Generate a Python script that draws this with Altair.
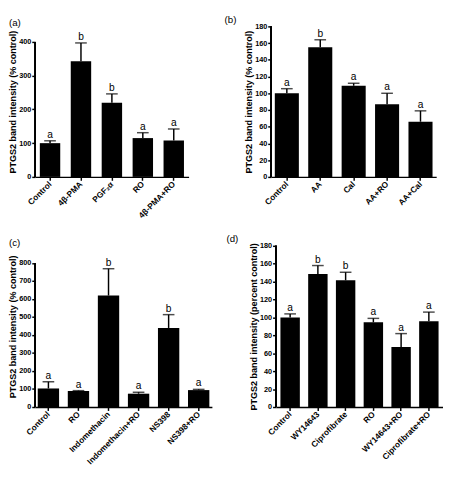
import altair as alt
import pandas as pd

FONT = "Liberation Sans"

# ---- Panel (a)
a_cats = ["Control", "4β-PMA", "PGF₂α", "RO", "4β-PMA+RO"]
a_vals = [100, 343, 220, 115, 108]
a_errs = [7, 54, 26, 16, 34]
a_sig = ["a", "b", "b", "a", "a"]
a_ticks = [0, 100, 200, 300, 400]

# ---- Panel (b)
b_cats = ["Control", "AA", "Cal", "AA+RO", "AA+Cal"]
b_vals = [100, 155, 109, 87, 66]
b_errs = [5.5, 9, 3, 13, 13]
b_sig = ["a", "b", "a", "a", "a"]
b_ticks = [0, 20, 40, 60, 80, 100, 120, 140, 160, 180]

# ---- Panel (c)
c_cats = ["Control", "RO", "Indomethacin", "Indomethacin+RO", "NS398", "NS398+RO"]
c_vals = [103, 89, 619, 74, 439, 94]
c_errs = [37, 2, 149, 8, 74, 4]
c_sig = ["a", "a", "b", "a", "b", "a"]
c_ticks = [0, 100, 200, 300, 400, 500, 600, 700, 800]

# ---- Panel (d)
d_cats = ["Control", "WY14643", "Ciprofibrate", "RO", "WY14643+RO", "Ciprofibrate+RO"]
d_vals = [100, 148.5, 141.5, 94.6, 67, 95.7]
d_errs = [4, 9.5, 9, 4.4, 15, 10.3]
d_sig = ["a", "b", "b", "a", "a", "a"]
d_ticks = [0, 20, 40, 60, 80, 100, 120, 140, 160, 180]


def panel(cats, vals, errs, sig, ticks, dom_max, ytitle, label, w, h,
          pin, pout, t_dx):
    df = pd.DataFrame({"cat": cats, "val": vals, "err": errs, "sig": sig})
    df["top"] = df["val"] + df["err"]
    xs = alt.Scale(paddingInner=pin, paddingOuter=pout)
    ys = alt.Scale(domain=[0, dom_max], nice=False, zero=True)
    xax = alt.Axis(labelAngle=-45, labelAlign="right", labelBaseline="middle")
    yax = alt.Axis(values=ticks, domain=False, labelOverlap=False,
                   labelFlush=False)

    def X():
        return alt.X("cat:N", sort=cats, title=None, scale=xs, axis=xax)

    def Y(field=None, datum=None):
        if datum is not None:
            return alt.Y(datum=datum, type="quantitative", scale=ys,
                         title=ytitle, axis=yax)
        return alt.Y(field, type="quantitative", scale=ys, title=ytitle,
                     axis=yax)

    base = alt.Chart(df)
    bars = base.mark_bar(color="black").encode(x=X(), y=Y("val"))
    rule = base.mark_rule(color="black", strokeWidth=1.5).encode(
        x=X(), y=Y("val"), y2="top:Q")
    cap = base.mark_tick(color="black", thickness=1.5, size=12,
                         orient="horizontal").encode(x=X(), y=Y("top"))
    txt = base.mark_text(baseline="bottom", dy=-1, fontSize=10.5, font=FONT,
                         fill="#000000").encode(
        x=X(), y=Y("top"), text="sig:N")
    # y axis line from the lowest to the highest tick value
    yline = base.mark_rule(color="black", strokeWidth=1.5).encode(
        x=alt.value(0), y=Y(datum=ticks[0]), y2=alt.Y2(datum=ticks[-1]))
    tp = dict(anchor="start", frame="bounds", offset=-2)
    if t_dx:
        tp["dx"] = t_dx
    return alt.layer(bars, rule, cap, txt, yline).properties(
        width=w, height=h, title=alt.TitleParams(label, **tp))


pa = panel(a_cats, a_vals, a_errs, a_sig, a_ticks, 446,
           "PTGS2 band intensity (% control)", "(a)", 158, 155, 0.34, 0.15, 0)
pb = panel(b_cats, b_vals, b_errs, b_sig, b_ticks, 180,
           "PTGS2 band intensity (% control)", "(b)", 170, 155, 0.28, 0.11, -21)
pc = panel(c_cats, c_vals, c_errs, c_sig, c_ticks, 895,
           "PTGS2 band intensity (% control)", "(c)", 182, 166, 0.29, 0.085, 0)
pd_ = panel(d_cats, d_vals, d_errs, d_sig, d_ticks, 180,
            "PTGS2 band intensity (percent control)", "(d)", 172, 166, 0.30, 0.16, -24)

row1 = alt.hconcat(pa, pb, spacing=36)
row2 = alt.hconcat(pc, pd_, spacing=14)

chart = alt.vconcat(row1, row2, spacing=15).properties(padding=0).configure_axis(
    grid=False, domainColor="black", domainWidth=1.5, tickColor="black",
    tickWidth=1.5, tickSize=3.5, labelFont=FONT, labelFontWeight="bold",
    labelFontSize=7.5, labelColor="black", labelPadding=1,
    titleFont=FONT, titleFontWeight="bold", titleFontSize=9.3,
    titleColor="black", titlePadding=1
).configure_axisX(labelFontSize=8.5, labelPadding=2).configure_view(
    stroke=None
).configure_title(
    font=FONT, fontSize=10, fontWeight="normal", color="black"
)

chart.save("out.html", embed_options={"renderer": "svg", "actions": False})
